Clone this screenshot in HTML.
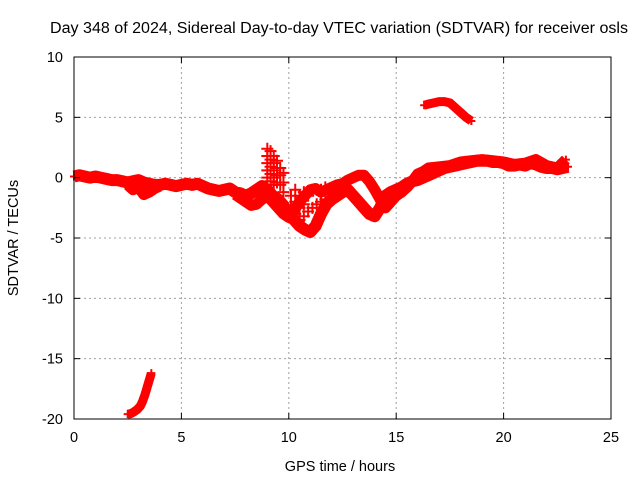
<!DOCTYPE html>
<html><head><meta charset="utf-8"><style>
body{margin:0;background:#fff}
svg{display:block;font-family:"Liberation Sans",sans-serif}
</style></head><body>
<svg id="chart" width="640" height="480" viewBox="0 0 640 480">
<rect width="640" height="480" fill="#fff"/>
<text x="339" y="33" font-size="15.3" text-anchor="middle" textLength="578" lengthAdjust="spacingAndGlyphs">Day 348 of 2024, Sidereal Day-to-day VTEC variation (SDTVAR) for receiver osls</text>
<text x="340" y="471" font-size="14.5" text-anchor="middle">GPS time / hours</text>
<text transform="translate(18,238) rotate(-90)" font-size="14.5" text-anchor="middle">SDTVAR / TECUs</text>
<g id="grid"></g>
<g id="marks"></g>
<g id="axes"></g>
</svg>
<script>
const xTicks=[0,5,10,15,20,25];
const yTicks=[10,5,0,-5,-10,-15,-20];
const trackAx=[0,0.25,0.5,0.75,1,1.25,1.5,1.75,2,2.25,2.5,2.75,3,3.25,3.5,3.75,4,4.25,4.5,4.75,5,5.25,5.5,5.75,6,6.25,6.5,6.75,7,7.25,7.5,7.75,8,8.25,8.5,8.75,9,9.25,9.5,9.75,10,10.25,10.5,10.75,11,11.25,11.5,11.75,12,12.25,12.5,12.75,13,13.25,13.5,13.75,14,14.25,14.5,14.75,15,15.25,15.5,15.75,16,16.25,16.5,16.75,17,17.25,17.5,17.75,18,18.25,18.5,18.75,19,19.25,19.5,19.75,20,20.25,20.5,20.75,21,21.25,21.5,21.75,22,22.25,22.5,22.75,23];
const trackAy=[0.1,0.2,0.1,0,0.1,0,-0.1,-0.2,-0.2,-0.3,-0.4,-0.3,-0.2,-0.4,-0.5,-0.6,-0.6,-0.5,-0.6,-0.7,-0.6,-0.5,-0.6,-0.5,-0.7,-0.9,-1.0,-1.1,-1.0,-0.9,-1.2,-1.3,-1.5,-1.3,-1.0,-0.7,-1.0,-1.5,-1.8,-2.3,-3.0,-3.5,-4,-4.3,-4.5,-4,-3,-2.2,-1.8,-1.5,-1.2,-1,-1.5,-2,-2.5,-3,-3.2,-2.5,-1.5,-1.2,-1,-0.8,-0.5,-0.3,-0.2,0,0.2,0.4,0.6,0.8,0.9,1.0,1.1,1.2,1.3,1.4,1.4,1.4,1.3,1.3,1.2,1.0,1.0,1.1,1.0,1.2,1.1,0.9,0.8,0.8,0.7,0.8,0.9];
const trackBx=[2.5,2.75,3,3.25,3.5,3.75,4,7.5,7.75,8,8.25,8.5,8.75,9,9.25,9.5,9.75,10,10.25,10.5,10.75,11,11.25,11.5,11.75,12,12.25,12.5,12.75,13,13.25,13.5,13.75,14,14.25,14.5,14.75,15,15.25,15.5,15.75,16,16.25,16.5,17,17.5,18,18.5,19,19.5,20,20.5,21,21.5,22,22.5,22.9];
const trackBy=[-0.6,-1.0,-0.8,-1.4,-1.2,-0.9,-0.7,-1.4,-1.7,-2.0,-2.3,-2.2,-1.8,-1.5,-2.0,-2.5,-3.0,-3.3,-2.7,-2.0,-1.5,-1.0,-0.9,-1.2,-1.0,-0.8,-0.6,-0.5,-0.2,0,0.2,0.2,-0.3,-1.0,-1.8,-2.5,-2.0,-1.5,-1.2,-0.8,-0.3,0.3,0.5,0.8,0.9,1.0,1.3,1.4,1.5,1.4,1.3,1.1,1.2,1.5,1.0,0.8,1.5];
const spikeX=[9.0,9.0,9.0,9.0,9.0,9.15,9.15,9.15,9.15,9.15,9.3,9.3,9.3,9.3,9.3,9.45,9.45,9.45,9.45,9.6,9.6,9.6,9.75,9.75,9.75,10.1,10.1,10.1,10.3,10.3,10.3,10.5,10.5,10.5,10.7,10.7,10.7,10.9,10.9,11.1,11.1,11.3,11.3,11.5,11.5,11.7,11.7,11.9];
const spikeY=[2.4,1.8,1.2,0.6,0.0,2.2,1.5,0.9,0.3,-0.3,1.8,1.2,0.6,0.0,-0.6,1.4,0.8,0.2,-0.4,0.8,0.2,-0.6,0.4,-0.4,-1.2,-1.5,-2.3,-3.0,-1.0,-2.0,-3.0,-1.5,-2.5,-3.5,-1.2,-2.2,-3.2,-1.5,-2.8,-1.0,-2.5,-1.0,-2.2,-1.0,-2.0,-0.8,-1.8,-1.0];
const trackCx=[16.3,16.5,16.75,17,17.25,17.5,17.75,18,18.25,18.5];
const trackCy=[6.0,6.1,6.2,6.3,6.3,6.2,5.8,5.4,5.0,4.7];
const trackDx=[2.5,2.65,2.8,2.95,3.1,3.2,3.3,3.4,3.5,3.6];
const trackDy=[-19.6,-19.55,-19.4,-19.2,-18.9,-18.5,-18.0,-17.4,-16.8,-16.2];

const L=74,R=611,T=57,B=419;
const X=v=>L+(v-0)/(25-0)*(R-L);
const Y=v=>B-(v+20)/(30)*(B-T);
const NS='http://www.w3.org/2000/svg';
function mk(tag,attrs,parent){const e=document.createElementNS(NS,tag);for(const k in attrs)e.setAttribute(k,attrs[k]);parent.appendChild(e);return e;}
const grid=document.getElementById('grid'),axes=document.getElementById('axes'),marks=document.getElementById('marks');
xTicks.forEach(t=>{
  const x=X(t);
  if(t>0&&t<25){const g=mk('line',{x1:x,x2:x,y1:T,y2:B,stroke:'#a0a0a0','stroke-dasharray':'2,3'},grid);
  
  }
  mk('line',{x1:x,x2:x,y1:B,y2:B-6,stroke:'#000'},axes);
  mk('line',{x1:x,x2:x,y1:T,y2:T+6,stroke:'#000'},axes);
  const tx=mk('text',{x:x,y:B+23,'font-size':14.5,'text-anchor':'middle'},axes);
  tx.textContent=t;
  
  
});
yTicks.forEach(t=>{
  const y=Y(t);
  if(t>-20&&t<10){const g=mk('line',{x1:L,x2:R,y1:y,y2:y,stroke:'#a0a0a0','stroke-dasharray':'2,3'},grid);
  
  }
  mk('line',{x1:L,x2:L+6,y1:y,y2:y,stroke:'#000'},axes);
  mk('line',{x1:R,x2:R-6,y1:y,y2:y,stroke:'#000'},axes);
  const tx=mk('text',{x:L-11,y:y+5,'font-size':14.5,'text-anchor':'end'},axes);
  tx.textContent=t;
  
  
});
const frame=mk('rect',{x:L,y:T,width:R-L,height:B-T,fill:'none',stroke:'#000'},axes);



function series(xs,ys,name,w,m){
  const g=mk('g',{},marks);
  
  
  const pts=xs.map((x,i)=>X(x)+','+Y(ys[i]));
  if(w>0){
    let seg=[];const segs=[];
    xs.forEach((x,i)=>{if(i>0&&x-xs[i-1]>1){segs.push(seg);seg=[];}seg.push(pts[i]);});
    segs.push(seg);
    segs.forEach(s=>mk('polyline',{points:s.join(' '),fill:'none',stroke:'#ff0000','stroke-width':w,'stroke-linejoin':'round'},g));
  }
  xs.forEach((x,i)=>{
    const px=X(x),py=Y(ys[i]);
    const p=mk('path',{d:`M${px-m},${py}H${px+m}M${px},${py-m}V${py+m}`,stroke:'#ff0000','stroke-width':2},g);
    
    
  });
}
series(trackAx,trackAy,'track-a',12,4);
series(trackBx,trackBy,'track-b',11,4);
series(spikeX,spikeY,'spikes',0,6);
series(trackCx,trackCy,'track-c',9,4);
series(trackDx,trackDy,'track-d',9,4);
</script>
</body></html>
